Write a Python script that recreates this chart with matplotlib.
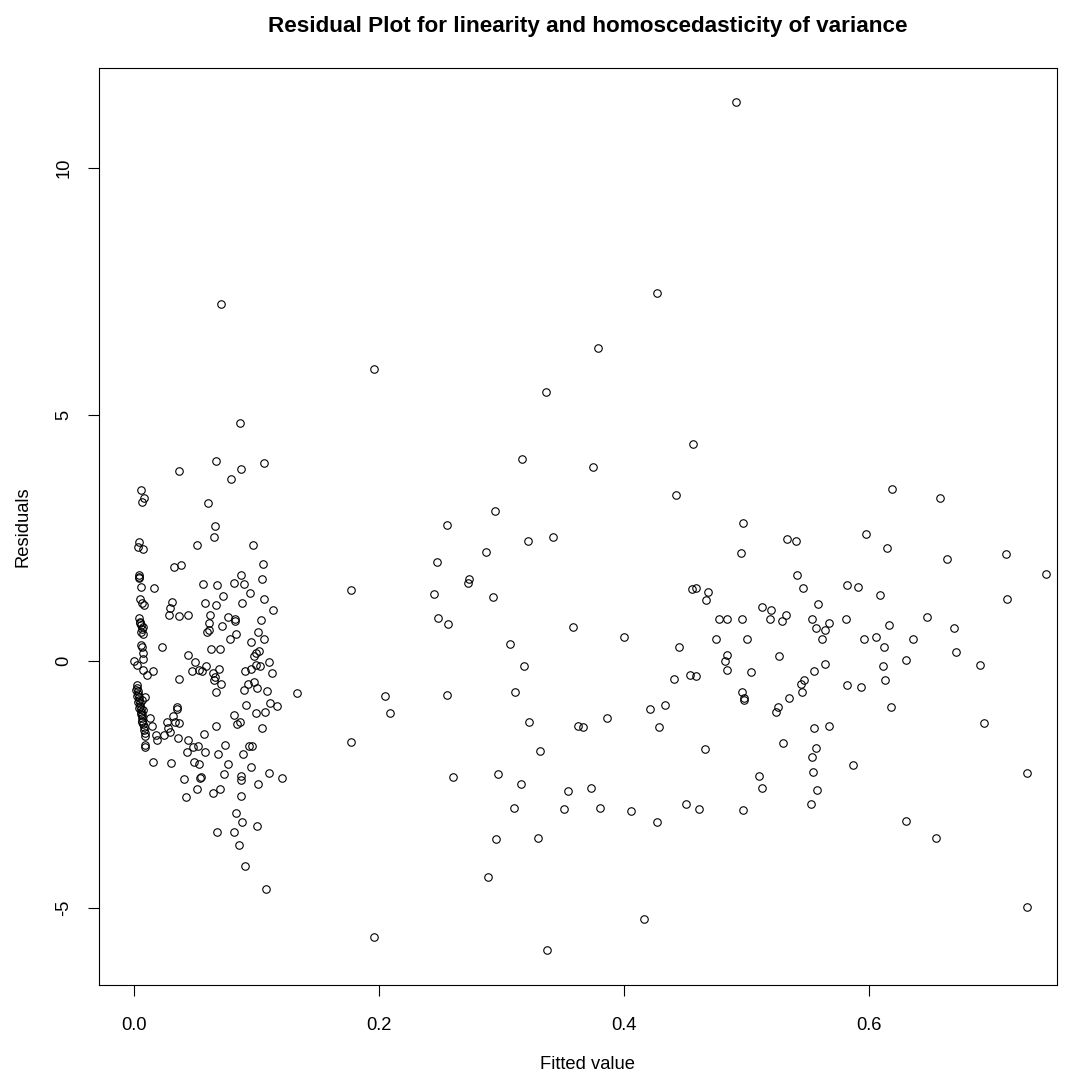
import matplotlib
matplotlib.use("Agg")
import matplotlib.pyplot as plt

# fitted values / residuals, grouped by fitted-value range
fitted_low = [
    0.0365, 0.0055, 0.0082, 0.0063, 0.0041, 0.0030, 0.0071, 0.0324, 0.0386, 0.0041,
    0.0041, 0.0041, 0.0055, 0.0166, 0.0049, 0.0063, 0.0082, 0.0308, 0.0294, 0.0286,
    0.0367, 0.0443, 0.0041, 0.0049, 0.0055, 0.0063, 0.0057, 0.0071, 0.0049, 0.0073,
    0.0055, 0.0063, 0.0076, 0.0076, 0.0231, 0.0000, 0.0027, 0.0076, 0.0106, 0.0158,
    0.0443, 0.0498, 0.0471, 0.0365, 0.0022, 0.0024, 0.0029, 0.0033, 0.0037, 0.0041,
    0.0045, 0.0049, 0.0053, 0.0057, 0.0061, 0.0065, 0.0069, 0.0073, 0.0078, 0.0082,
    0.0086, 0.0090, 0.0016, 0.0024, 0.0033, 0.0041, 0.0053, 0.0065, 0.0061, 0.0073,
    0.0090, 0.0090, 0.0092, 0.0349, 0.0353, 0.0321, 0.0335, 0.0370, 0.0131, 0.0144,
    0.0267, 0.0280, 0.0294, 0.0247, 0.0180, 0.0362, 0.0443, 0.0185, 0.0479, 0.0430,
    0.0158, 0.0300, 0.0490, 0.0411, 0.0539, 0.0512, 0.0424, 0.0669, 0.1061, 0.0871,
    0.0794, 0.0602, 0.0661, 0.0653, 0.0512, 0.0974, 0.1051, 0.0871, 0.1042, 0.0566,
    0.0680, 0.0814, 0.0900, 0.0947, 0.0729, 0.0577, 0.0669, 0.0882, 0.1061, 0.1137,
    0.0623, 0.0767, 0.0824, 0.1034, 0.0615, 0.0822, 0.0716, 0.0593, 0.0612, 0.0781,
    0.0833, 0.1012, 0.1061, 0.0958, 0.0631, 0.0700, 0.1023, 0.0996, 0.0977, 0.1100,
    0.0590, 0.0533, 0.0553, 0.0645, 0.0691, 0.0656, 0.0661, 0.0710, 0.0909, 0.0955,
    0.0996, 0.1026, 0.1127, 0.0898, 0.0928, 0.0982, 0.1004, 0.1088, 0.1327, 0.0669,
    0.0917, 0.1110, 0.1167, 0.0993, 0.1069, 0.0816, 0.0843, 0.0865, 0.1042, 0.0669,
    0.0569, 0.0520, 0.0580, 0.0745, 0.0939, 0.0961, 0.0688, 0.0892, 0.0533, 0.0767,
    0.0958, 0.1102, 0.0547, 0.0737, 0.0871, 0.1211, 0.0642, 0.0704, 0.0873, 0.1012,
    0.0871, 0.0833, 0.0882, 0.1004, 0.0678, 0.0814, 0.0860, 0.0906, 0.1078, 0.0708,
    0.0868,
]
resid_low = [
    3.85, 3.47, 3.31, 3.23, 2.42, 2.32, 2.27, 1.91, 1.95, 1.74,
    1.71, 1.68, 1.51, 1.49, 1.26, 1.17, 1.14, 1.20, 1.07, 0.93,
    0.92, 0.93, 0.87, 0.80, 0.73, 0.66, 0.59, 0.54, 0.77, 0.69,
    0.32, 0.29, 0.16, 0.05, 0.28, 0.00, -0.08, -0.18, -0.28, -0.20,
    0.12, -0.01, -0.20, -0.37, -0.49, -0.55, -0.61, -0.67, -0.73, -0.79,
    -0.85, -0.91, -0.97, -1.03, -1.10, -1.16, -1.22, -1.28, -1.34, -1.40,
    -1.46, -1.52, -0.59, -0.71, -0.83, -0.95, -1.08, -1.24, -0.79, -0.99,
    -0.72, -1.70, -1.74, -0.93, -0.98, -1.12, -1.23, -1.25, -1.16, -1.31,
    -1.23, -1.35, -1.43, -1.50, -1.50, -1.56, -1.60, -1.60, -1.75, -1.84,
    -2.04, -2.06, -2.04, -2.40, -2.38, -2.60, -2.75, 4.06, 4.01, 3.90,
    3.69, 3.21, 2.74, 2.52, 2.36, 2.35, 1.97, 1.74, 1.67, 1.57,
    1.55, 1.58, 1.57, 1.38, 1.32, 1.17, 1.14, 1.17, 1.25, 1.03,
    0.94, 0.89, 0.85, 0.84, 0.78, 0.81, 0.72, 0.60, 0.63, 0.44,
    0.55, 0.60, 0.44, 0.39, 0.25, 0.25, 0.20, 0.16, 0.11, -0.01,
    -0.10, -0.18, -0.20, -0.25, -0.16, -0.39, -0.33, -0.46, -0.20, -0.16,
    -0.07, -0.10, -0.24, -0.58, -0.47, -0.43, -0.54, -0.60, -0.65, -0.63,
    -0.89, -0.85, -0.91, -1.05, -1.03, -1.10, -1.27, -1.23, -1.36, -1.32,
    -1.48, -1.72, -1.84, -1.70, -1.72, -1.72, -1.89, -1.89, -2.08, -2.08,
    -2.14, -2.27, -2.36, -2.29, -2.34, -2.38, -2.67, -2.60, -2.41, -2.50,
    -2.74, -3.09, -3.26, -3.35, -3.47, -3.47, -3.73, -4.16, -4.63, 7.24,
    4.83,
]

fitted_mid = [
    0.1774, 0.1774, 0.1957, 0.1957, 0.2051, 0.2090, 0.2471, 0.2451, 0.2479, 0.2555,
    0.2566, 0.2555, 0.2604, 0.2737, 0.2727, 0.2871, 0.2890, 0.2928, 0.2947, 0.2957,
    0.2974, 0.3069, 0.3110, 0.3100, 0.3157, 0.3165, 0.3186, 0.3214, 0.3222, 0.3298,
    0.3317, 0.3366, 0.3374, 0.3423, 0.3508, 0.3545, 0.3584, 0.3624, 0.3663, 0.3728,
    0.3744, 0.3790, 0.3804, 0.3861, 0.4002, 0.4060, 0.4166, 0.4212, 0.4272, 0.4288,
    0.4269, 0.4337, 0.4406, 0.4424, 0.4451, 0.4508, 0.4536, 0.4555, 0.4566, 0.4585,
    0.4585, 0.4612, 0.4659, 0.4669, 0.4688, 0.4753, 0.4776, 0.4822, 0.4841, 0.4841,
    0.4843, 0.4914, 0.4955, 0.4966, 0.4974, 0.4966, 0.4980, 0.4980, 0.4974, 0.5004,
    0.5039, 0.5100, 0.5127, 0.5127, 0.5194, 0.5202, 0.5238, 0.5255, 0.5263, 0.5290,
    0.5298, 0.5320, 0.5328, 0.5347, 0.5404, 0.5412, 0.5450, 0.5447, 0.5467, 0.5459,
    0.5527, 0.5537, 0.5537, 0.5545, 0.5548, 0.5548, 0.5567, 0.5567, 0.5576, 0.5584,
    0.5614, 0.5643, 0.5643, 0.5671, 0.5671, 0.5823, 0.5810, 0.5823,
]
resid_mid = [
    1.45, -1.65, 5.93, -5.60, -0.71, -1.06, 2.02, 1.36, 0.87, 2.76,
    0.75, -0.68, -2.36, 1.66, 1.58, 2.21, -4.38, 1.29, 3.04, -3.61,
    -2.29, 0.34, -0.63, -2.98, -2.50, 4.10, -0.09, 2.43, -1.24, -3.58,
    -1.82, 5.46, -5.86, 2.52, -3.00, -2.64, 0.70, -1.31, -1.34, -2.57,
    3.94, 6.36, -2.97, -1.15, 0.49, -3.04, -5.23, -0.98, -3.26, -1.34,
    7.46, -0.89, -0.37, 3.37, 0.28, -2.90, -0.28, 1.46, 4.40, 1.48,
    -0.30, -3.00, -1.79, 1.24, 1.41, 0.44, 0.85, 0.01, 0.13, -0.18,
    0.86, 11.34, 2.19, 0.86, 2.81, -0.63, -0.74, -0.79, -3.02, 0.44,
    -0.22, -2.33, 1.10, -2.57, 0.85, 1.03, -1.03, -0.93, 0.11, 0.82,
    -1.67, 0.94, 2.48, -0.74, 2.43, 1.74, -0.63, -0.47, -0.39, 1.48,
    -2.90, 0.85, -1.95, -2.24, -0.20, -1.36, 0.68, -1.77, -2.62, 1.16,
    0.44, 0.63, -0.06, 0.77, -1.32, 1.54, 0.85, -0.48,
]

fitted_high = [
    0.6190, 0.6583, 0.5977, 0.6151, 0.6633, 0.7115, 0.7443, 0.7123, 0.5911, 0.6093,
    0.6470, 0.6161, 0.6694, 0.5958, 0.6055, 0.6363, 0.6123, 0.6710, 0.6305, 0.6903,
    0.6112, 0.6131, 0.5931, 0.6178, 0.6941, 0.5873, 0.7289, 0.6305, 0.6548, 0.7289,
]
resid_high = [
    3.50, 3.30, 2.58, 2.29, 2.08, 2.17, 1.77, 1.25, 1.51, 1.34,
    0.90, 0.73, 0.68, 0.45, 0.49, 0.45, 0.28, 0.19, 0.02, -0.07,
    -0.10, -0.38, -0.53, -0.94, -1.26, -2.11, -2.27, -3.24, -3.58, -4.99,
]

x_ticks = [0.0, 0.2, 0.4, 0.6]
y_ticks = [-5, 0, 5, 10]

plt.rcParams['font.family'] = ['Liberation Sans', 'DejaVu Sans']

fig = plt.figure(figsize=(10.70, 10.72), dpi=100)
ax = fig.add_axes([99 / 1070, 1 - 985 / 1072, 958 / 1070, 917 / 1072])

fitted = fitted_low + fitted_mid + fitted_high
resid = resid_low + resid_mid + resid_high
ax.plot(fitted, resid, linestyle='none', marker='o', ms=5.4,
        mfc='none', mec='black', mew=0.8)

ax.set_xlim(-0.0286, 0.7535)
ax.set_ylim(-6.57, 12.03)
ax.set_xticks(x_ticks)
ax.set_xticklabels(['0.0', '0.2', '0.4', '0.6'])
ax.set_yticks(y_ticks)
ax.set_yticklabels([str(v) for v in y_ticks], rotation=90, va='center')
ax.tick_params(direction='out', length=8, width=0.8, labelsize=13.2)
ax.tick_params(axis='x', pad=15)
ax.tick_params(axis='y', pad=11)
for s in ax.spines.values():
    s.set_linewidth(0.8)

# title and x label sit a little right of the box centre in the reference
ax.set_xlabel('Fitted value', fontsize=13.2, labelpad=16, x=0.51)
ax.set_ylabel('Residuals', fontsize=13.2, labelpad=17)
ax.set_title('Residual Plot for linearity and homoscedasticity of variance',
             fontsize=16.2, fontweight='bold', pad=26, x=0.51)

fig.savefig('out.png', dpi=100)
